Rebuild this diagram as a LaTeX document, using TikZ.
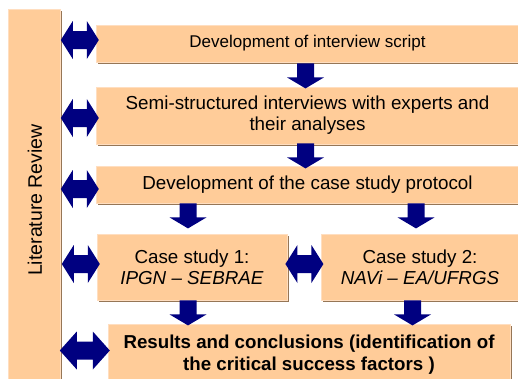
\documentclass[tikz,border=0pt]{standalone}
\usepackage{fontspec}
\setmainfont{Liberation Sans}
\usetikzlibrary{shadows,calc}
\definecolor{peach}{RGB}{255,204,153}
\definecolor{peachlight}{RGB}{255,222,192}
\definecolor{shadebrown}{RGB}{150,118,86}
\definecolor{navyblue}{RGB}{0,0,128}
\tikzset{
  box/.style={fill=peach, draw=peachlight, line width=0.8pt, align=center, inner sep=0pt,
    font=\fontsize{18.8}{21}\selectfont,
    drop shadow={fill=shadebrown, opacity=1, shadow xshift=2pt, shadow yshift=-2pt}},
  pics/downarrow/.style={code={
    \fill[navyblue] (-8.5,0) -- (8.5,0) -- (8.5,14) -- (18.5,14) -- (0,25)
      -- (-18.5,14) -- (-8.5,14) -- cycle;}},
  pics/dblarrow/.style 2 args={code={
    \fill[navyblue] (0,0) -- (#2,-19) -- (#2,-9) -- (#1-#2,-9) -- (#1-#2,-19) -- (#1,0)
      -- (#1-#2,19) -- (#1-#2,9) -- (#2,9) -- (#2,19) -- cycle;}}
}
\begin{document}
\begin{tikzpicture}[x=1pt,y=-1pt]
\useasboundingbox (0,0) rectangle (518,378);
\clip (0,0) rectangle (518,378);
% literature review bar
\node[box, minimum width=52pt, minimum height=400pt, anchor=north west] (bar) at (8,9) {};
\node[rotate=90, font=\fontsize{19.5}{22}\selectfont] (lr) at (35,200) {Literature Review};
% main boxes
\node[box, minimum width=423pt, minimum height=37pt, font=\fontsize{17}{20}\selectfont] (b1) at (307.5,43.5) {Development of interview script};
\node[box, minimum width=423pt, minimum height=57pt] (b2) at (307.5,115.5) {Semi-structured interviews with experts and\\their analyses};
\node[box, minimum width=423pt, minimum height=37pt] (b3) at (307.5,184.5) {Development of the case study protocol};
\node[box, minimum width=190pt, minimum height=66pt] (cs1) at (192,267) {Case study 1:\\\textit{IPGN -- SEBRAE}};
\node[box, minimum width=198pt, minimum height=66pt] (cs2) at (420,267) {Case study 2:\\\textit{NAVi -- EA/UFRGS}};
\node[box, minimum width=402pt, minimum height=62pt, font=\fontsize{18.7}{22}\selectfont\bfseries] (res) at (309,355) {Results and conclusions (identification of\\the critical success factors )};
% down arrows
\pic at ($(b1.south)+(-2,1)$) {downarrow};
\pic at ($(b2.south)+(-2,-1)$) {downarrow};
\pic at ($(b3.south -| cs1.north)+(-4,0)$) {downarrow};
\pic at ($(b3.south -| cs2.north)+(-4,0)$) {downarrow};
\pic at ($(cs1.south)+(-4,0)$) {downarrow};
\pic at ($(cs2.south)+(-7.5,0)$) {downarrow};
% double arrows
\pic at ($(bar.east |- b1.center)+(0,-3.5)$) {dblarrow={38}{12}};
\pic at ($(bar.east |- b2.center)+(0,2.5)$) {dblarrow={38}{12}};
\pic at ($(bar.east |- b3.center)+(0,4.5)$) {dblarrow={38}{12}};
\pic at ($(bar.east |- cs1.center)+(1,-3)$) {dblarrow={38}{12}};
\pic at ($(cs1.east |- cs1.center)+(-2,-3)$) {dblarrow={38}{12}};
\pic at ($(bar.east |- res.center)+(-1,-4.5)$) {dblarrow={50}{17}};
\end{tikzpicture}
\end{document}
